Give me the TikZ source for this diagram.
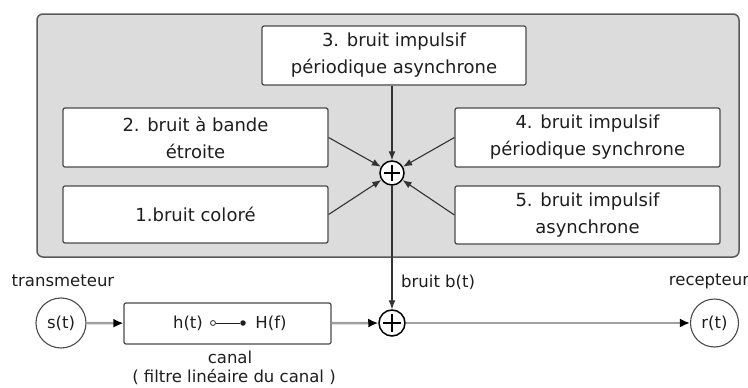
\documentclass[tikz,border=0pt]{standalone}
\usepackage{fontspec}
\setmainfont{DejaVu Sans}
\usetikzlibrary{arrows.meta}
\definecolor{panelfill}{HTML}{DCDCDC}
\definecolor{panelline}{HTML}{5A5A5A}
\definecolor{boxline}{HTML}{4A4A4A}
\definecolor{sigline}{HTML}{A0A0A0}
\definecolor{txt}{HTML}{1E1E1E}
\begin{document}
\begin{tikzpicture}[x=1pt,y=-1pt,
  noisebox/.style={draw=boxline, line width=1.2pt, fill=white, rounded corners=2pt,
    minimum width=265pt, minimum height=58pt, align=center, inner sep=0pt,
    text=txt, font=\fontsize{18}{27}\selectfont},
  sumnode/.style={circle, draw=black, line width=1.5pt, fill=white, inner sep=0pt,
    minimum size=#1,
    path picture={
      \draw[line width=1.6pt] ([xshift=-0.33*#1]path picture bounding box.center) -- ([xshift=0.33*#1]path picture bounding box.center);
      \draw[line width=1.6pt] ([yshift=-0.33*#1]path picture bounding box.center) -- ([yshift=0.33*#1]path picture bounding box.center);
    }},
  endpoint/.style={circle, draw=boxline, line width=1.1pt, fill=white, inner sep=0pt,
    minimum size=#1, text=txt, font=\fontsize{16.5}{20}\selectfont},
  lbl/.style={text=txt, inner sep=0pt, font=\fontsize{16.5}{20}\selectfont},
  feed/.style={draw=black!80, line width=1.1pt, -{Latex[length=9pt,width=7pt]}},
  sig/.style={draw=sigline, line width=2.6pt, -{Latex[length=10pt,width=9pt,color=black]}}
]
\useasboundingbox (0,0) rectangle (748,388);
\fill[white] (0,0) rectangle (748,388);

% panel
\node[draw=panelline, line width=1.5pt, fill=panelfill, rounded corners=6pt,
  minimum width=702pt, minimum height=243pt, inner sep=0pt] (panel) at (388,135.5) {};

% noise sources
\node[noisebox, minimum width=264pt, minimum height=59pt] (b3) at (394,55.5) {3. bruit impulsif\\périodique asynchrone};
\node[noisebox, minimum height=59pt] (b2) at (195.5,137.5) {2. bruit à bande\\étroite};
\node[noisebox, minimum height=57pt] (b1) at (195.5,214.5) {1.bruit coloré};
\node[noisebox, minimum height=59pt] (b4) at (587.5,137.5) {4. bruit impulsif\\périodique synchrone};
\node[noisebox, minimum height=58pt] (b5) at (587.5,215) {5. bruit impulsif\\asynchrone};

% noise summing point
\node[sumnode=24pt] (sumA) at (392,173) {};

\draw[feed] (b3.south -| sumA) -- (sumA);
\draw[feed] (b2.east) -- (sumA);
\draw[feed] (b1.east) -- (sumA);
\draw[feed] (b4.west) -- (sumA);
\draw[feed] (b5.west) -- (sumA);

% lower chain
\node[endpoint=50pt] (s) at (61,323) {s(t)};
\node[draw=boxline, line width=1.2pt, fill=white, rounded corners=2pt,
  minimum width=207pt, minimum height=41pt, inner sep=0pt] (canal) at (227.5,323.5) {};
\node[lbl] (ht) at (188,323) {h(t)};
\node[circle, draw=boxline, line width=0.9pt, fill=white, inner sep=0pt, minimum size=5pt] (ho) at (213,323) {};
\node[circle, fill=txt, inner sep=0pt, minimum size=5.5pt] (hd) at (243,323) {};
\node[lbl] (Hf) at (271,323) {H(f)};
\draw[line width=1pt, draw=txt] (ho) -- (hd);

\node[sumnode=26pt] (sumB) at (392,323) {};
\node[endpoint=48pt] (r) at (714.5,323) {r(t)};

\draw[sig] (s) -- (canal);
\draw[sig] (canal) -- (sumB);
\draw[sig] (sumB) -- (r);
\draw[feed] (sumA) -- (sumB);

% labels
\node[lbl] (ltx) at (63,281) {transmeteur};
\node[lbl] (lrx) at (709,281) {recepteur};
\node[lbl, anchor=west] (lb) at (401,282) {bruit b(t)};
\node[lbl] (lcanal) at (230,357) {canal};
\node[lbl] (lfiltre) at (234,377) {( filtre linéaire du canal )};
\end{tikzpicture}
\end{document}
